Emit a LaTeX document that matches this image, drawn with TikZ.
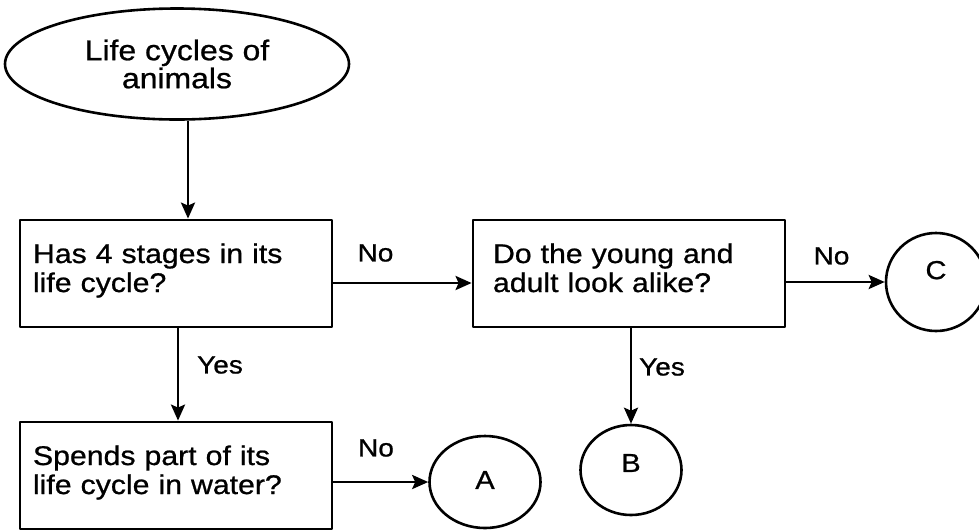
\documentclass[tikz,border=0pt]{standalone}
\usepackage{fontspec}
\setmainfont{Liberation Sans}[FakeStretch=1.12, FakeBold=0.8]
\usetikzlibrary{arrows.meta,shapes.geometric}
\tikzset{
  every picture/.style={
    line join=round,
    >={Stealth[length=16pt,width=14pt,inset=3pt]},   % filled heads
  },
  startnode/.style={draw, ellipse, line width=2.6pt, minimum width=344pt,
    minimum height=111pt, inner sep=0pt, align=center,
    font=\fontsize{28.5}{28}\selectfont},
  qbox/.style={draw, rectangle, line width=2.8pt, minimum width=312pt,
    minimum height=107pt, inner xsep=13pt, inner ysep=23pt, text width=286pt,
    align=left, text height=20pt, text depth=41pt,
    font=\fontsize{27}{29}\selectfont},
  endnode/.style={draw, ellipse, line width=2.6pt, inner sep=0pt,
    font=\fontsize{26}{26}\selectfont},
  answer/.style={inner sep=0pt, font=\fontsize{25}{25}\selectfont},
  flow/.style={->, line width=2.8pt},
}
\begin{document}
\begin{tikzpicture}[x=1pt, y=-1pt]
    \useasboundingbox (0,0) rectangle (979,531);

    % Start
    \node[startnode] (life) at (177,64) {Life cycles of\\animals};

    % Questions
    \node[qbox] (stages) at (176,273.5) {Has 4 stages in its\\life cycle?};
    \node[qbox, inner xsep=20pt, text width=272pt] (alike) at (629,273.5) {Do the young and\\adult look alike?};
    \node[qbox] (water) at (176,475.5) {Spends part of its\\life cycle in water?};

    % Outcomes
    \node[endnode, minimum width=111pt, minimum height=92pt, text depth=4pt] (outA) at (485,482) {A};
    \node[endnode, minimum width=101pt, minimum height=90pt, text depth=14pt] (outB) at (631,470) {B};
    \node[endnode, minimum width=100pt, minimum height=98pt, text depth=24pt] (outC) at (936,282) {C};

    % Arrows
    \draw[flow] ([xshift=11pt]life.south) -- ([xshift=12pt]stages.north);
    \draw[flow] ([xshift=2pt]stages.south) -- ([xshift=2pt]water.north);
    \draw[flow] ([yshift=-9.5pt]stages.east) -- ([yshift=-9.5pt]alike.west);
    \draw[flow] (alike.east |- outC.west) -- (outC.west);
    \draw[flow] (water.east |- outA.west) -- (outA.west);
    \draw[flow] (alike.south -| outB.north) -- (outB.north);

    % Answers
    \node[answer] (no1) at (375.5,253) {No};
    \node[answer] (no2) at (831.5,256) {No};
    \node[answer] (no3) at (376,448) {No};
    \node[answer] (yes1) at (220,365) {Yes};
    \node[answer] (yes2) at (662,367) {Yes};
\end{tikzpicture}
\end{document}
